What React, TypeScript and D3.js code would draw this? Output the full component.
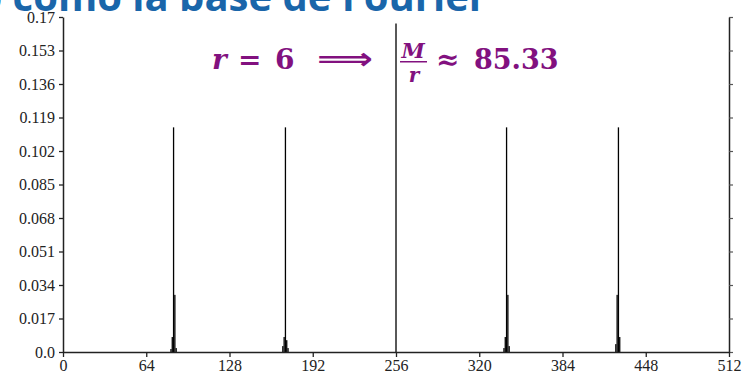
import React, { useEffect, useRef } from "react";
import * as d3 from "d3";

// bins of the 512-point spectrum that carry visible probability
const binIndex = [
  83, 84, 85, 86, 87,
  169, 170, 171, 172, 173,
  256,
  339, 340, 341, 342, 343,
  425, 426, 427, 428,
];
const probability = [
  0.0015, 0.0076, 0.114, 0.029, 0.002,
  0.003, 0.0076, 0.114, 0.006, 0.002,
  0.1667,
  0.002, 0.0076, 0.114, 0.029, 0.003,
  0.004, 0.029, 0.114, 0.0076,
];

const xTicks = [0, 64, 128, 192, 256, 320, 384, 448, 512];
const yTicks = [0, 0.017, 0.034, 0.051, 0.068, 0.085, 0.102, 0.119, 0.136, 0.153, 0.17];
const yTickLabels = ["0.0", "0.017", "0.034", "0.051", "0.068", "0.085", "0.102", "0.119", "0.136", "0.153", "0.17"];

const title = "Periodo como la base de Fourier";

const App = () => {
  const svgRef = useRef<SVGSVGElement>(null);

  useEffect(() => {
    const dims = { width: 744, height: 377, left: 63, right: 729, top: 17, bottom: 352 };
    const svg = d3.select(svgRef.current);
    svg.selectAll("*").remove();

    const x = d3.scaleLinear([0, 512], [dims.left, dims.right]);
    const y = d3.scaleLinear([0, 0.17], [dims.bottom, dims.top]);
    const bw = x(1) - x(0);
    const axisColor = "#222";
    const font = "'Liberation Serif', serif";

    // title, cut at the top edge
    svg
      .append("text")
      .attr("x", 487)
      .attr("y", 11)
      .attr("text-anchor", "end")
      .attr("fill", "#1a66aa")
      .attr("font-family", "'Open Sans', sans-serif")
      .attr("font-weight", 700)
      .attr("font-size", 40)
      .text(title);

    // bars
    svg
      .append("g")
      .selectAll("rect")
      .data(binIndex)
      .join("rect")
      .attr("x", (d) => x(d) - bw / 2)
      .attr("width", bw)
      .attr("y", (_, i) => y(probability[i]))
      .attr("height", (_, i) => y(0) - y(probability[i]))
      .attr("fill", "#000");

    // left axis
    svg
      .append("g")
      .attr("transform", `translate(${dims.left},0)`)
      .call(d3.axisLeft(y).tickValues(yTicks).tickSize(4).tickSizeOuter(0).tickFormat((_, i) => yTickLabels[i]))
      .call((g) => g.select(".domain").attr("stroke", axisColor).attr("stroke-width", 1.5))
      .call((g) => g.selectAll(".tick line").attr("stroke", axisColor).attr("stroke-width", 1.3))
      .call((g) =>
        g.selectAll(".tick text").attr("font-family", font).attr("font-size", 16).attr("fill", "#222").attr("x", -8)
      );

    // right axis
    svg
      .append("g")
      .attr("transform", `translate(${dims.right},0)`)
      .call(d3.axisRight(y).tickValues(yTicks).tickSize(4).tickSizeOuter(0).tickFormat(() => ""))
      .call((g) => g.select(".domain").attr("stroke", axisColor).attr("stroke-width", 1.5))
      .call((g) => g.selectAll(".tick line").attr("stroke", "#555").attr("stroke-width", 1.2));

    // bottom axis
    svg
      .append("g")
      .attr("transform", `translate(0,${dims.bottom})`)
      .call(d3.axisBottom(x).tickValues(xTicks).tickSize(5).tickSizeOuter(0))
      .call((g) => g.select(".domain").attr("stroke", axisColor).attr("stroke-width", 1.5))
      .call((g) => g.selectAll(".tick line").attr("stroke", axisColor).attr("stroke-width", 1.3))
      .call((g) =>
        g.selectAll(".tick text").attr("font-family", font).attr("font-size", 16).attr("fill", "#222").attr("y", 8)
      );

    // annotation  r = 6  =>  M/r ~ 85.33
    const purple = "#82117f";
    const serif = "'DejaVu Serif', serif";
    const ann = svg.append("g").attr("fill", purple).attr("font-family", serif).attr("font-weight", 700);
    ann.append("text").attr("x", 212).attr("y", 69).attr("font-size", 28).attr("font-style", "italic").text("r");
    ann.append("text").attr("x", 238).attr("y", 69).attr("font-size", 28).text("=");
    ann.append("text").attr("x", 275).attr("y", 69).attr("font-size", 28).text("6");
    ann
      .append("text")
      .attr("x", 317)
      .attr("y", 69)
      .attr("font-size", 30)
      .attr("font-family", "'DejaVu Sans', sans-serif")
      .attr("textLength", 56)
      .attr("lengthAdjust", "spacingAndGlyphs")
      .text("\u27F9");
    ann.append("text").attr("x", 413).attr("y", 58).attr("text-anchor", "middle").attr("font-size", 21).attr("font-style", "italic").text("M");
    ann.append("rect").attr("x", 400).attr("y", 61).attr("width", 27).attr("height", 1.5);
    ann.append("text").attr("x", 414).attr("y", 82).attr("text-anchor", "middle").attr("font-size", 20).attr("font-style", "italic").text("r");
    ann.append("text").attr("x", 436).attr("y", 69).attr("font-size", 28).text("\u2248");
    ann.append("text").attr("x", 474).attr("y", 69).attr("font-size", 27).text("85.33");
  }, []);

  return (
    <svg
      ref={svgRef}
      width={744}
      height={377}
      style={{ position: "absolute", left: 0, top: 0, background: "#fff" }}
    />
  );
};

export default App;
